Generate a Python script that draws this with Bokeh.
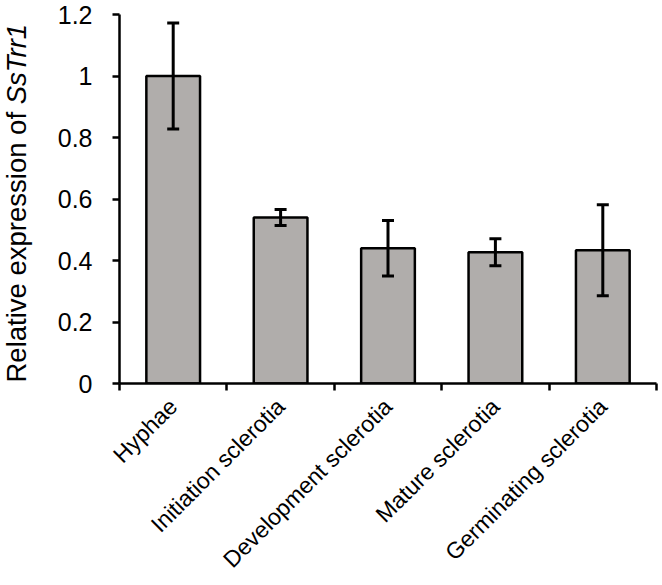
import math
from bokeh.plotting import figure
from bokeh.layouts import row
from bokeh.models import (ColumnDataSource, FixedTicker, Whisker, TeeHead, Label,
                          NumeralTickFormatter, Range1d)
from bokeh.embed import file_html
from bokeh.resources import INLINE

# ---- data ----
categories = ["Hyphae", "Initiation sclerotia", "Development sclerotia",
              "Mature sclerotia", "Germinating sclerotia"]
values = [1.0, 0.54, 0.44, 0.427, 0.433]
errors = [0.172, 0.026, 0.09, 0.044, 0.148]
y_ticks = [0, 0.2, 0.4, 0.6, 0.8, 1.0, 1.2]
y_label_plain = "Relative expression of "
y_label_italic = "SsTrr1"

FONT = "Liberation Sans"
BAR_FILL = "#b0adab"
H = 584
LEFT_W = 40
FRAME_TOP = 14
FRAME_BOTTOM = 383
Y_MAX = 1.2

xc = [i + 0.5 for i in range(len(categories))]
src = ColumnDataSource(dict(
    x=xc, top=values,
    upper=[v + e for v, e in zip(values, errors)],
    lower=[v - e for v, e in zip(values, errors)],
))

yr = Range1d(0, Y_MAX)

p = figure(width=620, height=H, output_backend="svg", toolbar_location=None,
           x_range=Range1d(0, len(categories)), y_range=yr,
           min_border_left=119 - LEFT_W, min_border_right=4,
           min_border_top=FRAME_TOP, min_border_bottom=H - FRAME_BOTTOM)
p.outline_line_color = None
p.xgrid.visible = False
p.ygrid.visible = False

p.vbar(x="x", top="top", width=0.5, bottom=0, source=src,
       fill_color=BAR_FILL, line_color="black", line_width=2.5)

w = Whisker(source=src, base="x", upper="upper", lower="lower",
            line_color="black", line_width=3, level="annotation",
            upper_head=TeeHead(size=12, line_width=3, line_color="black"),
            lower_head=TeeHead(size=12, line_width=3, line_color="black"))
p.add_layout(w)

# y axis
ya = p.yaxis[0]
ya.ticker = FixedTicker(ticks=y_ticks)
ya.formatter = NumeralTickFormatter(format="0.[0]")
ya.axis_line_width = 2.5
ya.major_tick_line_width = 2.5
ya.major_tick_out = 7
ya.major_tick_in = 0
ya.minor_tick_line_color = None
ya.major_label_text_font = FONT
ya.major_label_text_font_size = "25px"
ya.major_label_text_color = "black"
ya.major_label_standoff = 20

# x axis
xa = p.xaxis[0]
xa.ticker = FixedTicker(ticks=xc, minor_ticks=list(range(len(categories) + 1)))
xa.major_label_overrides = {x: c for x, c in zip(xc, categories)}
xa.axis_line_width = 2.5
xa.major_tick_out = 0
xa.major_tick_in = 0
xa.minor_tick_out = 7
xa.minor_tick_in = 0
xa.minor_tick_line_width = 2.5
xa.minor_tick_line_color = "black"
xa.major_label_orientation = math.pi / 4
xa.major_label_text_font = FONT
xa.major_label_text_font_size = "23px"
xa.major_label_text_color = "black"
xa.major_label_standoff = 12

# left panel holding the y-axis title (plain + italic parts); its frame is
# aligned with the main frame, so it shares the same y range
lp = figure(width=LEFT_W, height=H, output_backend="svg", toolbar_location=None,
            x_range=Range1d(0, LEFT_W), y_range=yr,
            x_axis_location=None, y_axis_location=None,
            min_border_left=0, min_border_right=0,
            min_border_top=FRAME_TOP, min_border_bottom=H - FRAME_BOTTOM)
lp.outline_line_color = None
lp.xgrid.visible = False
lp.ygrid.visible = False

px_per_unit = (FRAME_BOTTOM - FRAME_TOP) / Y_MAX
fs = 27.5
plain_em = 10.115
y_start = 1.0 / px_per_unit
lab_x = 16
lp.add_layout(Label(x=lab_x, y=y_start, text=y_label_plain, angle=math.pi / 2,
                    text_align="left", text_baseline="middle",
                    text_font=FONT, text_font_size=f"{fs}px", text_color="black"))
lp.add_layout(Label(x=lab_x, y=y_start + plain_em * fs / px_per_unit, text=y_label_italic,
                    angle=math.pi / 2, text_align="left", text_baseline="middle",
                    text_font=FONT, text_font_size=f"{fs}px", text_font_style="italic",
                    text_color="black"))

layout = row(lp, p)
open("out.html", "w").write(file_html(layout, INLINE))
